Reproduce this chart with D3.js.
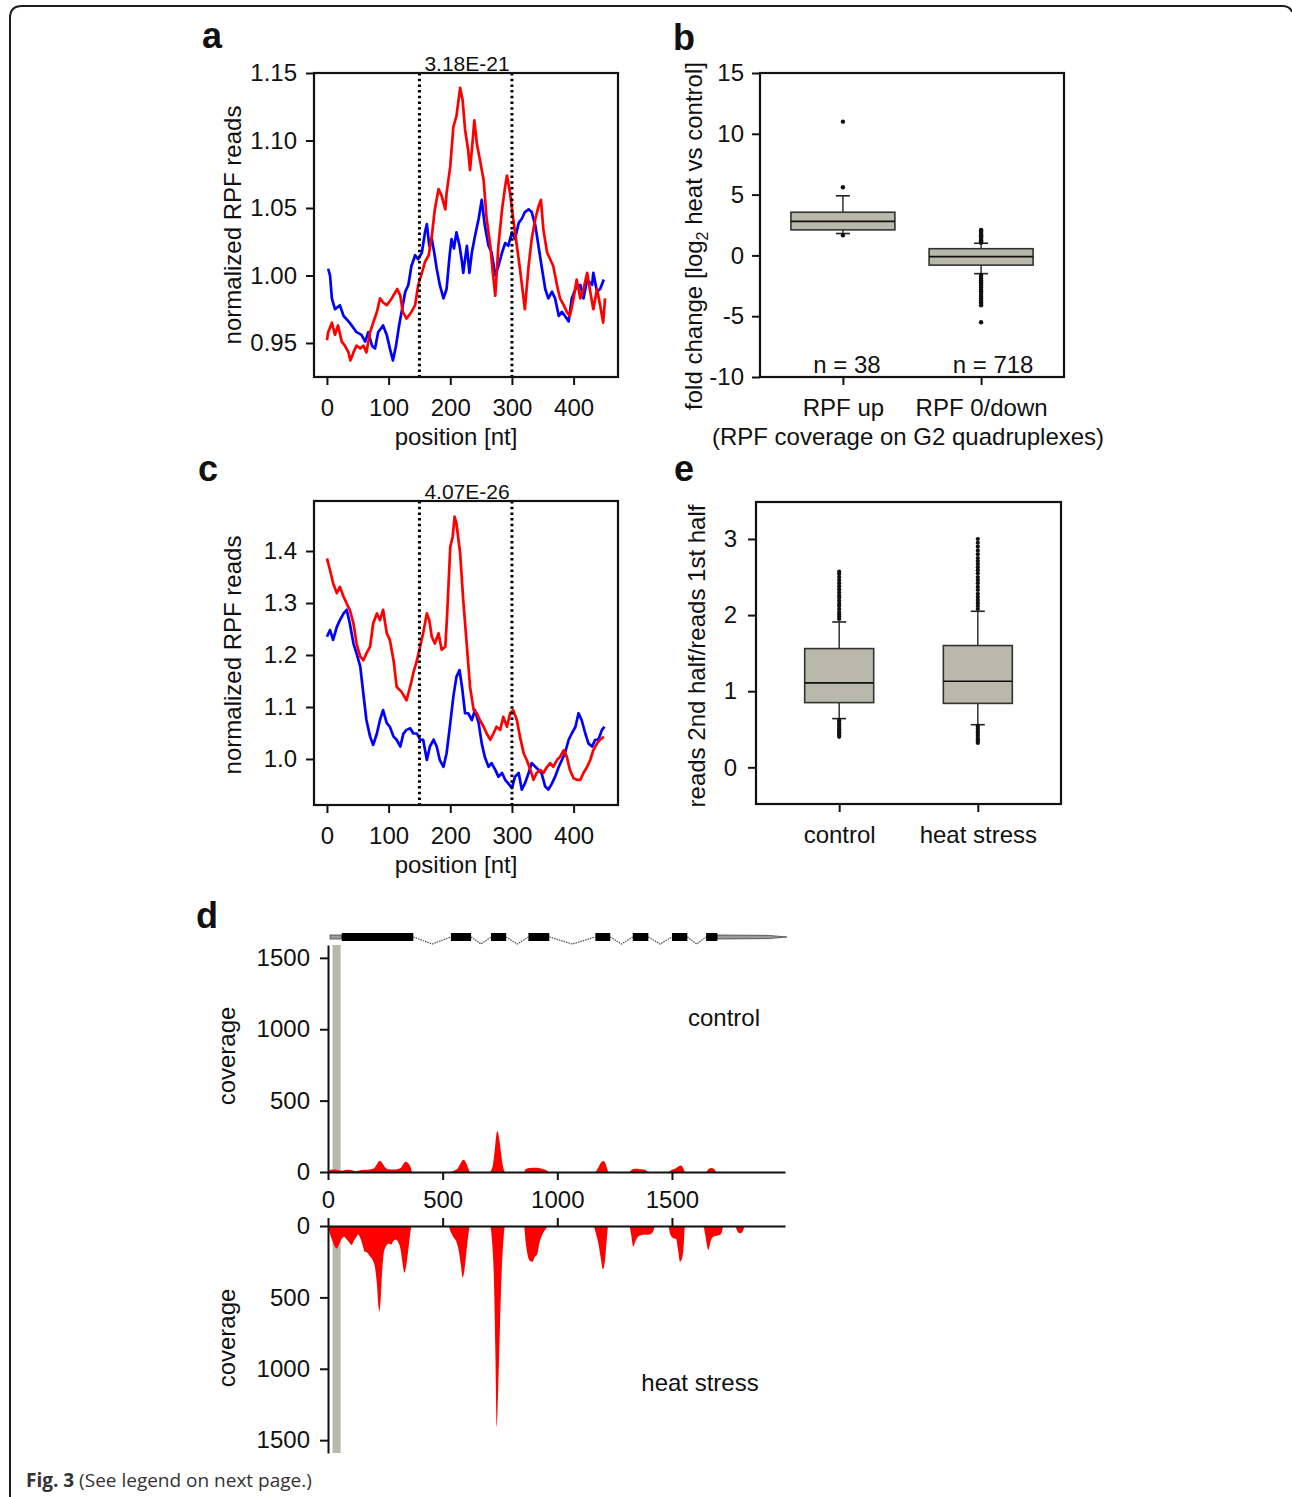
<!DOCTYPE html>
<html>
<head>
<meta charset="utf-8">
<script src="https://cdn.jsdelivr.net/npm/d3@7"></script>
<style>
  body { margin: 0; background: #fff; }
  svg text { font-family: "Liberation Sans", Arial, sans-serif; fill: #111; }
</style>
</head>
<body>
<svg id="fig" width="1292" height="1497"></svg>
<script>
// ---- panel a / c : normalized RPF reads along the G4 window (pos nt, value) ----
const A_BLUE = [[2,1.005],[5,1.000],[8,0.983],[13,0.975],[21,0.978],[27,0.970],[35,0.966],[40,0.963],[48,0.958],[56,0.956],[62,0.951],[67,0.958],[73,0.948],[78,0.946],[83,0.958],[91,0.963],[97,0.956],[102,0.946],[107,0.937],[112,0.948],[117,0.963],[121,0.973],[127,0.988],[132,0.993],[137,1.007],[143,1.015],[148,1.012],[154,1.017],[159,1.032],[162,1.038],[166,1.022],[170,1.027],[174,1.017],[178,1.005],[183,0.993],[189,0.983],[194,0.990],[199,1.015],[202,1.027],[206,1.020],[210,1.032],[215,1.022],[219,1.010],[221,1.002],[227,1.022],[231,1.002],[235,1.017],[240,1.029],[246,1.042],[251,1.056],[256,1.037],[262,1.022],[267,1.017],[273,1.000],[278,1.007],[284,1.017],[289,1.024],[294,1.022],[300,1.032],[305,1.027],[311,1.039],[316,1.042],[321,1.047],[327,1.049],[332,1.047],[338,1.037],[343,1.022],[348,1.007],[354,0.990],[359,0.983],[365,0.988],[370,0.983],[376,0.970],[381,0.973],[386,0.970],[392,0.966],[397,0.983],[403,0.990],[411,0.993],[416,0.983],[422,0.997],[430,0.993],[432,1.002],[438,0.988],[443,0.990],[449,0.997]];
const A_RED = [[0,0.952],[2,0.958],[8,0.965],[13,0.956],[18,0.963],[24,0.951],[29,0.948],[35,0.943],[38,0.937],[43,0.943],[48,0.948],[54,0.946],[59,0.948],[64,0.943],[70,0.958],[75,0.965],[81,0.973],[86,0.983],[91,0.980],[97,0.978],[105,0.983],[114,0.990],[119,0.985],[123,0.973],[129,0.968],[137,0.973],[143,0.978],[148,0.993],[154,1.002],[159,1.010],[165,1.015],[170,1.029],[175,1.049],[181,1.064],[186,1.059],[192,1.049],[194,1.061],[200,1.081],[205,1.110],[210,1.118],[216,1.139],[220,1.130],[224,1.108],[229,1.093],[232,1.078],[236,1.098],[239,1.115],[243,1.098],[248,1.086],[254,1.071],[259,1.042],[265,1.022],[269,1.002],[273,0.985],[278,1.022],[284,1.049],[289,1.066],[292,1.074],[297,1.061],[302,1.042],[308,1.022],[313,1.005],[321,0.975],[327,1.007],[332,1.027],[338,1.042],[343,1.051],[347,1.056],[351,1.034],[357,1.017],[362,1.012],[367,1.007],[373,0.993],[378,0.983],[384,0.978],[389,0.973],[394,0.970],[400,0.983],[405,0.997],[411,0.983],[416,0.990],[422,1.002],[427,0.988],[432,0.975],[438,0.990],[443,0.978],[448,0.965],[451,0.983]];
const C_BLUE = [[0,1.235],[5,1.248],[10,1.229],[16,1.254],[21,1.267],[27,1.280],[32,1.287],[37,1.261],[43,1.222],[48,1.203],[54,1.178],[59,1.126],[64,1.075],[70,1.043],[75,1.027],[81,1.049],[86,1.075],[91,1.094],[97,1.069],[102,1.062],[108,1.043],[113,1.037],[119,1.024],[124,1.049],[129,1.056],[135,1.059],[140,1.049],[146,1.049],[151,1.037],[156,1.037],[162,0.998],[167,1.024],[173,1.037],[178,1.024],[183,0.998],[189,0.985],[194,1.011],[200,1.069],[205,1.120],[210,1.158],[215,1.171],[219,1.139],[224,1.088],[229,1.088],[235,1.075],[240,1.094],[246,1.069],[251,1.030],[256,1.004],[262,0.985],[267,0.992],[273,0.979],[278,0.966],[284,0.973],[289,0.960],[294,0.953],[300,0.944],[305,0.966],[311,0.973],[316,0.941],[321,0.953],[327,0.973],[332,0.992],[338,0.985],[343,0.979],[348,0.973],[354,0.947],[359,0.941],[365,0.953],[370,0.966],[376,0.985],[381,0.998],[386,1.011],[392,1.037],[397,1.049],[403,1.062],[408,1.088],[413,1.075],[419,1.049],[424,1.030],[430,1.024],[435,1.037],[440,1.037],[446,1.056],[450,1.062]];
const C_RED = [[0,1.386],[5,1.363],[10,1.338],[16,1.319],[21,1.331],[27,1.312],[32,1.299],[37,1.287],[43,1.261],[48,1.222],[54,1.197],[59,1.190],[64,1.203],[70,1.216],[75,1.261],[81,1.280],[86,1.267],[91,1.287],[97,1.242],[102,1.229],[108,1.190],[113,1.139],[121,1.129],[129,1.113],[135,1.139],[140,1.165],[146,1.190],[151,1.216],[156,1.242],[162,1.280],[166,1.267],[170,1.235],[175,1.222],[181,1.242],[186,1.210],[192,1.216],[195,1.280],[200,1.408],[204,1.428],[207,1.466],[210,1.453],[216,1.396],[221,1.306],[227,1.216],[232,1.139],[238,1.094],[243,1.088],[248,1.075],[254,1.062],[259,1.049],[265,1.037],[270,1.049],[275,1.062],[281,1.056],[286,1.081],[292,1.062],[297,1.088],[302,1.094],[308,1.075],[313,1.043],[319,1.011],[324,0.998],[330,0.979],[335,0.960],[340,0.973],[346,0.979],[351,0.973],[357,0.985],[362,0.992],[367,0.985],[373,0.998],[378,1.004],[384,1.017],[389,1.004],[394,0.979],[400,0.963],[405,0.960],[411,0.960],[416,0.973],[422,0.985],[427,0.998],[432,1.017],[438,1.030],[443,1.037],[449,1.043]];
const POS_TICKS = [0, 100, 200, 300, 400];
const WINDOW = [150, 300];
const A_Y_TICKS = [0.95, 1.00, 1.05, 1.10, 1.15];
const C_Y_TICKS = [1.0, 1.1, 1.2, 1.3, 1.4];
const A_PVAL = "3.18E-21";
const C_PVAL = "4.07E-26";

// ---- panel b : fold change boxes ----
const B_CATS = ["RPF up", "RPF 0/down"];
const B_N = ["n = 38", "n = 718"];
const B_Q1 = [2.1, -0.8];
const B_MED = [2.8, -0.1];
const B_Q3 = [3.55, 0.55];
const B_LO = [1.8, -1.5];
const B_HI = [4.9, 1.0];
const B_OUT = [
  [11.0, 5.6, 1.65],
  [1.05, 1.15, 1.25, 1.35, 1.45, 1.55, 1.65, 1.75, 1.85, 1.95, 2.05, 2.1,
   -1.6, -1.75, -1.9, -2.05, -2.2, -2.35, -2.5, -2.65, -2.8, -2.95, -3.1, -3.25, -3.4, -3.55, -3.7, -3.85, -4.0, -4.1, -5.5]
];
const B_Y_TICKS = [-10, -5, 0, 5, 10, 15];

// ---- panel e : 2nd half / 1st half ratio ----
const E_CATS = ["control", "heat stress"];
const E_Q1 = [0.85, 0.84];
const E_MED = [1.11, 1.13];
const E_Q3 = [1.56, 1.60];
const E_LO = [0.64, 0.56];
const E_HI = [1.91, 2.05];
const E_OUT = [
  [1.95, 1.98, 2.01, 2.04, 2.08, 2.12, 2.15, 2.19, 2.23, 2.26, 2.3, 2.34, 2.38, 2.42, 2.46, 2.5, 2.54, 2.57,
   0.62, 0.6, 0.57, 0.55, 0.52, 0.5, 0.48, 0.46, 0.44, 0.42, 0.4],
  [2.08, 2.12, 2.16, 2.2, 2.24, 2.28, 2.33, 2.37, 2.42, 2.46, 2.5, 2.55, 2.59, 2.63, 2.67, 2.71, 2.75, 2.8, 2.85, 2.9, 2.95, 3.0,
   0.54, 0.51, 0.48, 0.46, 0.43, 0.41, 0.38, 0.36, 0.34, 0.32]
];
const E_Y_TICKS = [0, 1, 2, 3];

// ---- panel d : coverage along the transcript (nt, coverage) ----
const D_CONTROL = [[0,0],[5,8],[15,15],[30,18],[45,12],[60,8],[75,14],[90,16],[105,12],[120,5],[135,10],[160,15],[180,18],[200,25],[212,50],[224,79],[236,65],[248,35],[262,20],[280,18],[300,20],[318,30],[330,60],[340,72],[350,62],[360,35],[368,0],
  [535,0],[548,8],[565,25],[578,60],[590,85],[602,65],[612,25],[620,0],
  [705,0],[718,40],[727,150],[735,270],[740,285],[746,240],[755,130],[763,40],[772,0],
  [855,0],[862,20],[880,28],[900,30],[920,28],[940,20],[955,10],[962,0],
  [1165,0],[1178,30],[1190,65],[1200,77],[1210,60],[1218,20],[1224,0],
  [1315,0],[1325,15],[1340,22],[1360,20],[1375,18],[1388,10],[1395,0],
  [1484,0],[1500,15],[1515,25],[1530,40],[1540,45],[1550,25],[1557,0],
  [1650,0],[1660,22],[1672,28],[1685,20],[1692,0],[1990,0]];
const D_HEAT = [[0,0],[8,50],[18,100],[28,140],[38,157],[48,130],[58,95],[70,75],[82,95],[95,120],[103,133],[112,105],[122,80],[132,60],[142,90],[152,140],[160,180],[170,185],[182,210],[195,240],[205,290],[214,420],[220,560],[224,600],[229,530],[236,320],[244,180],[254,140],[265,125],[275,130],[285,105],[295,95],[305,110],[316,160],[325,260],[333,327],[341,280],[350,170],[358,60],[365,0],
  [524,0],[535,40],[548,80],[560,110],[572,190],[580,280],[587,360],[595,310],[605,160],[614,40],[619,0],
  [707,0],[716,120],[724,400],[730,900],[736,1407],[742,1150],[750,700],[758,300],[766,80],[772,0],
  [855,0],[862,110],[870,200],[881,245],[892,250],[902,215],[912,200],[922,120],[935,60],[948,25],[961,0],
  [1157,0],[1168,50],[1180,130],[1190,230],[1199,304],[1208,240],[1216,90],[1222,0],
  [1314,0],[1322,60],[1331,145],[1340,110],[1352,75],[1365,65],[1380,60],[1395,62],[1410,55],[1420,30],[1426,0],
  [1484,0],[1492,55],[1505,85],[1518,90],[1526,160],[1535,250],[1545,220],[1552,120],[1557,0],
  [1637,0],[1645,60],[1652,130],[1659,168],[1668,110],[1680,75],[1695,68],[1710,62],[1718,40],[1724,0],
  [1775,0],[1785,35],[1797,51],[1808,40],[1819,0],[1990,0]];
const D_X_TICKS = [0, 500, 1000, 1500];
const D_Y_TICKS = [0, 500, 1000, 1500];
const D_UTR5 = [9, 60];
const D_EXONS = [[60,372],[536,624],[711,777],[874,965],[1166,1231],[1329,1397],[1500,1567],[1649,1698]];
const D_UTR3 = [1698, 2001];
const D_START = [20, 55];   // grey band at the start codon

const INK = "#111";
const BOX_FILL = "#b8b8ab";
const plain = d => String(d);   // "-10", "1500" : no unicode minus, no thousands comma
const svg = d3.select("#fig");

// ---------- helpers ----------
function tidy(sel, keepDomain) {
  sel.attr("font-family", null).attr("font-size", 24);
  if (!keepDomain) sel.select(".domain").remove();
  else sel.select(".domain").attr("stroke", INK).attr("stroke-width", 2);
  sel.selectAll(".tick line").attr("stroke", INK).attr("stroke-width", 2);
  sel.selectAll(".tick text").attr("fill", INK);
}

function text(x, y, s, o = {}) {
  const t = svg.append("text")
    .attr("transform", `translate(${x},${y})` + (o.rot ? ` rotate(${o.rot})` : ""))
    .attr("text-anchor", o.anchor || "middle")
    .attr("font-size", o.size || 24)
    .text(s);
  if (o.bold) t.attr("font-weight", 700);
  return t;
}

function frame(x0, y0, x1, y1) {
  svg.append("rect")
    .attr("x", x0).attr("y", y0).attr("width", x1 - x0).attr("height", y1 - y0)
    .attr("fill", "none").attr("stroke", INK).attr("stroke-width", 2.2);
}

// ---------- outer page frame + caption ----------
svg.append("path")
  .attr("d", "M10,1497 V18 Q10,6 22,6 H1282 Q1290,6 1292,12")
  .attr("fill", "none").attr("stroke", "#1c1c1c").attr("stroke-width", 2);

const cap = svg.append("text").attr("x", 26).attr("y", 1487)
  .style("font-family", '"Open Sans", "Noto Sans", sans-serif')
  .attr("font-size", 19).style("fill", "#333");
cap.append("tspan").attr("font-weight", 700).text("Fig. 3");
cap.append("tspan").text(" (See legend on next page.)");

// ---------- panels a, c ----------
function tracePanel(o) {
  const L = 314, R = 618;
  const x = d3.scaleLinear().domain([-21, 472]).range([L, R]);
  const y = d3.scaleLinear().domain(o.yDomain).range([o.bottom, o.top]);
  const g = svg.append("g");

  const line = d3.line().x(d => x(d[0])).y(d => y(d[1]));
  g.append("path").datum(o.blue).attr("d", line)
    .attr("fill", "none").attr("stroke", "#0000ff").attr("stroke-width", 2.7).attr("stroke-linejoin", "round");
  g.append("path").datum(o.red).attr("d", line)
    .attr("fill", "none").attr("stroke", "#ff0000").attr("stroke-width", 2.7).attr("stroke-linejoin", "round");

  g.selectAll("line.win").data(WINDOW).join("line")
    .attr("class", "win")
    .attr("x1", d => x(d)).attr("x2", d => x(d))
    .attr("y1", o.top).attr("y2", o.bottom)
    .attr("stroke", "#000").attr("stroke-width", 3).attr("stroke-dasharray", "2.5,3.2");

  frame(L, o.top, R, o.bottom);

  g.append("g").attr("transform", `translate(${L},0)`)
    .call(d3.axisLeft(y).tickValues(o.yTicks).tickFormat(o.fmt).tickSize(8).tickPadding(9))
    .call(tidy);
  g.append("g").attr("transform", `translate(0,${o.bottom})`)
    .call(d3.axisBottom(x).tickValues(POS_TICKS).tickSize(8).tickPadding(14))
    .call(tidy);

  text(467, o.top - 2, o.pval, { size: 21 });
  text(456, o.bottom + 68, "position [nt]");
  text(241, o.labelY, "normalized RPF reads", { rot: -90 });
}

tracePanel({ top: 73, bottom: 377, yDomain: [0.9248, 1.15], yTicks: A_Y_TICKS, fmt: d3.format(".2f"),
             blue: A_BLUE, red: A_RED, pval: A_PVAL, labelY: 225 });
tracePanel({ top: 501, bottom: 805, yDomain: [0.9115, 1.4962], yTicks: C_Y_TICKS, fmt: d3.format(".1f"),
             blue: C_BLUE, red: C_RED, pval: C_PVAL, labelY: 655 });

// ---------- panels b, e ----------
function boxPanel(o) {
  const x = d3.scalePoint().domain(o.cats).range([o.left, o.right]).padding(0.6);
  const y = d3.scaleLinear().domain(o.yDomain).range([o.bottom, o.top]);
  const g = svg.append("g");
  const half = o.boxW / 2;
  const rows = o.cats.map((c, i) => ({ c, q1: o.q1[i], med: o.med[i], q3: o.q3[i], lo: o.lo[i], hi: o.hi[i], out: o.out[i] }));

  const bx = g.selectAll("g.bx").data(rows).join("g").attr("class", "bx");
  bx.append("line").attr("x1", d => x(d.c)).attr("x2", d => x(d.c))
    .attr("y1", d => y(d.hi)).attr("y2", d => y(d.lo)).attr("stroke", "#222").attr("stroke-width", 1.4);
  bx.selectAll("line.cap").data(d => [d.lo, d.hi].map(v => ({ c: d.c, v }))).join("line").attr("class", "cap")
    .attr("x1", d => x(d.c) - 7).attr("x2", d => x(d.c) + 7)
    .attr("y1", d => y(d.v)).attr("y2", d => y(d.v)).attr("stroke", "#222").attr("stroke-width", 1.6);
  bx.append("rect").attr("x", d => x(d.c) - half).attr("width", o.boxW)
    .attr("y", d => y(d.q3)).attr("height", d => y(d.q1) - y(d.q3))
    .attr("fill", BOX_FILL).attr("stroke", "#333").attr("stroke-width", 1.6);
  bx.append("line").attr("x1", d => x(d.c) - half).attr("x2", d => x(d.c) + half)
    .attr("y1", d => y(d.med)).attr("y2", d => y(d.med)).attr("stroke", "#111").attr("stroke-width", 1.6);
  bx.selectAll("circle").data(d => d.out.map(v => ({ c: d.c, v }))).join("circle")
    .attr("cx", d => x(d.c)).attr("cy", d => y(d.v)).attr("r", o.dot).attr("fill", "#111");

  frame(o.left, o.top, o.right, o.bottom);

  g.append("g").attr("transform", `translate(${o.left},0)`)
    .call(d3.axisLeft(y).tickValues(o.yTicks).tickFormat(plain).tickSize(8).tickPadding(o.yPad))
    .call(tidy);
  g.append("g").attr("transform", `translate(0,${o.bottom})`)
    .call(d3.axisBottom(x).tickSize(8).tickPadding(14))
    .call(tidy);
  return x;
}

const xb = boxPanel({ left: 760, right: 1064, top: 73, bottom: 377, yDomain: [-10, 15], yTicks: B_Y_TICKS, yPad: 8,
  cats: B_CATS, q1: B_Q1, med: B_MED, q3: B_Q3, lo: B_LO, hi: B_HI, out: B_OUT, boxW: 104, dot: 2.2 });
B_CATS.forEach((c, i) => text(xb(c) + (i ? 12 : 4), 373, B_N[i]));
text(908, 445, "(RPF coverage on G2 quadruplexes)");
const yl = text(702, 236, "fold change [log", { rot: -90 });
yl.append("tspan").attr("font-size", 16).attr("dy", 6).text("2");
yl.append("tspan").attr("dy", -6).text(" heat vs control]");

boxPanel({ left: 756, right: 1061, top: 502, bottom: 804, yDomain: [-0.482, 3.486], yTicks: E_Y_TICKS, yPad: 11,
  cats: E_CATS, q1: E_Q1, med: E_MED, q3: E_Q3, lo: E_LO, hi: E_HI, out: E_OUT, boxW: 69, dot: 2.1 });
text(705, 656, "reads 2nd half/reads 1st half", { rot: -90 });

// ---------- panel d ----------
const xd = d3.scaleLinear().domain([0, 1993]).range([328, 785]);
const ydc = d3.scaleLinear().domain([0, 1590]).range([1172, 945]);
const ydh = d3.scaleLinear().domain([0, 1590]).range([1226, 1453]);
const gd = svg.append("g");

// gene model
const GM = 937;
for (let i = 0; i < D_EXONS.length - 1; i++) {
  const a = D_EXONS[i][1], b = D_EXONS[i + 1][0];
  gd.append("path")
    .attr("d", `M${xd(a)},${GM} L${xd((a + b) / 2)},${GM + 7} L${xd(b)},${GM}`)
    .attr("fill", "none").attr("stroke", "#555").attr("stroke-width", 1.3).attr("stroke-dasharray", "1.5,1");
}
gd.append("rect").attr("x", xd(D_UTR5[0])).attr("width", xd(D_UTR5[1]) - xd(D_UTR5[0]))
  .attr("y", GM - 2).attr("height", 4).attr("fill", "#9a9a9a").attr("stroke", "#444").attr("stroke-width", 0.8);
gd.append("path")
  .attr("d", `M${xd(D_UTR3[0])},${GM - 2} L${xd(D_UTR3[1] - 80)},${GM - 1.6} L${xd(D_UTR3[1])},${GM} L${xd(D_UTR3[1] - 80)},${GM + 1.6} L${xd(D_UTR3[0])},${GM + 2} Z`)
  .attr("fill", "#9a9a9a").attr("stroke", "#444").attr("stroke-width", 0.8);
gd.selectAll("rect.exon").data(D_EXONS).join("rect").attr("class", "exon")
  .attr("x", d => xd(d[0])).attr("width", d => xd(d[1]) - xd(d[0]))
  .attr("y", GM - 4).attr("height", 8).attr("fill", "#000");

// start codon band
gd.append("rect").attr("x", xd(D_START[0])).attr("width", xd(D_START[1]) - xd(D_START[0]))
  .attr("y", ydc(1590)).attr("height", ydc(0) - ydc(1590)).attr("fill", BOX_FILL);
gd.append("rect").attr("x", xd(D_START[0])).attr("width", xd(D_START[1]) - xd(D_START[0]))
  .attr("y", ydh(0)).attr("height", ydh(1590) - ydh(0)).attr("fill", BOX_FILL);

// coverage areas
const areaC = d3.area().x(d => xd(d[0])).y0(ydc(0)).y1(d => ydc(d[1])).curve(d3.curveMonotoneX);
const areaH = d3.area().x(d => xd(d[0])).y0(ydh(0)).y1(d => ydh(d[1])).curve(d3.curveMonotoneX);
gd.append("path").datum(D_CONTROL).attr("d", areaC).attr("fill", "#ff0000");
gd.append("path").datum(D_HEAT).attr("d", areaH).attr("fill", "#ff0000");

// axes
gd.append("g").attr("transform", "translate(328,0)")
  .call(d3.axisLeft(ydc).tickValues(D_Y_TICKS).tickFormat(plain).tickSize(8).tickSizeOuter(0).tickPadding(10))
  .call(tidy, true);
gd.append("g").attr("transform", "translate(328,0)")
  .call(d3.axisLeft(ydh).tickValues(D_Y_TICKS).tickFormat(plain).tickSize(8).tickSizeOuter(0).tickPadding(10))
  .call(tidy, true);
gd.append("g").attr("transform", "translate(0,1172)")
  .call(d3.axisBottom(xd).tickValues(D_X_TICKS).tickFormat(plain).tickSize(8).tickSizeOuter(0).tickPadding(11))
  .call(tidy, true);
gd.append("g").attr("transform", "translate(0,1226)")
  .call(d3.axisTop(xd).tickValues(D_X_TICKS).tickSize(8).tickSizeOuter(0).tickFormat(""))
  .call(tidy, true);

text(724, 1026, "control");
text(700, 1391, "heat stress");
text(235, 1056, "coverage", { rot: -90 });
text(235, 1338, "coverage", { rot: -90 });

// ---------- panel letters ----------
[["a", 212, 48], ["b", 684, 50], ["c", 208, 481], ["e", 684, 481], ["d", 207, 928]]
  .forEach(([s, x, y]) => text(x, y, s, { size: 36, bold: true }));
</script>
</body>
</html>
